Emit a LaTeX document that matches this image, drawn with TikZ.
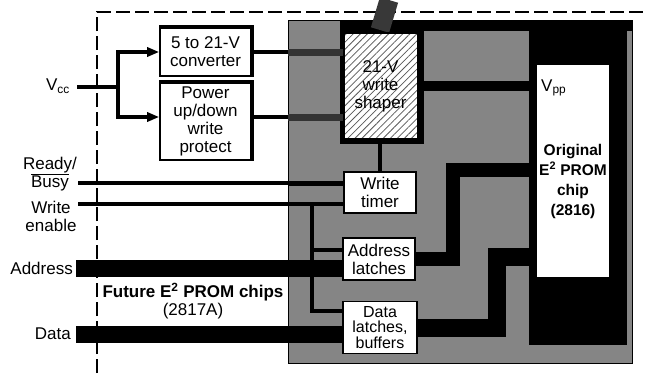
\documentclass[tikz,border=0pt]{standalone}
\usepackage{fontspec}
\setmainfont{Liberation Sans}
\usetikzlibrary{arrows.meta,patterns.meta,calc}
\begin{document}
\begin{tikzpicture}[x=1pt,y=-1pt,
  font=\fontsize{17}{18}\selectfont,
  box/.style={draw, line width=1.6pt, fill=white, align=center, inner sep=0pt},
  wire/.style={line width=3.2pt},
  inwire/.style={line width=7pt, black!80},
  trace/.style={line width=#1, line join=miter},
  bus/.style={line width=17pt},
  lab/.style={align=center, inner sep=0pt},
  arr/.style={-{Triangle[length=12pt,width=9pt]}}]
\useasboundingbox (0,0) rectangle (645,373);

% outer dashed boundary
\draw[line width=1.8pt, dash pattern=on 14pt off 5pt] (97,373) -- (97,12) -- (645,12);

% stippled region
\node[fill=black!48, draw, line width=1pt, minimum width=344pt, minimum height=343pt,
      anchor=north west, inner sep=0pt] (stip) at (288,20) {};

% black areas
\fill (341,20) rectangle (632,31);
\fill (529,20) rectangle (627,345);
\fill (340,20) rectangle (424,144);

% shaper output going up
\coordinate (vout) at (389,0);
\coordinate (vbase) at (380,30);
\draw[line width=19pt, black!78] (vbase) -- (vout);

% boxes
\node[box, minimum width=91pt, minimum height=48pt] (conv) at (205.5,52) {5 to 21-V\\converter};
\node[box, minimum width=91pt, minimum height=77pt] (pwr) at (205.5,121.5) {Power\\up/down\\write\\protect};
\draw[line width=4pt] (conv.north west) -- (conv.north east) -- (conv.south east);
\draw[line width=4pt] (pwr.north west) -- (pwr.north east) -- (pwr.south east);

\node[draw, line width=2pt, align=center, inner sep=0pt, minimum width=74pt, minimum height=106pt,
      preaction={fill=white},
      pattern={Lines[angle=45,distance=5pt,line width=0.8pt]}, pattern color=black!65]
      (shaper) at (380.5,86) {21-V\\write\\shaper};

\node[box, minimum width=72pt, minimum height=41pt] (timer) at (380,192.5) {Write\\timer};
\node[box, minimum width=72pt, minimum height=42pt] (alat) at (379,259) {Address\\latches};
\node[box, minimum width=74pt, minimum height=52pt, font=\fontsize{16}{15.5}\selectfont] (dlat) at (380,327.5) {Data\\latches,\\buffers};

% chip
\node[fill=white, inner sep=0pt, minimum width=72pt, minimum height=212pt] (chip) at (573,171) {};

% traces inside
\coordinate (a1) at (453,259);
\coordinate (a2) at (453,170);
\coordinate (d1) at (497,327.5);
\coordinate (d2) at (497,257);
\draw[trace=14pt] (alat.east) -- (a1) -- (a2) -- (a2 -| chip.west);
\draw[trace=18pt] (dlat.east) -- (d1) -- (d2) -- (d2 -| chip.west);
\draw[line width=10pt] (shaper.east) -- (shaper.east -| chip.west);
\node[anchor=west, inner sep=0pt] (vpp) at (541,88) {V\textsubscript{pp}};
\node[lab, font=\bfseries\fontsize{15.5}{20}\selectfont] (chiptxt) at (573,181) {Original\\E\textsuperscript{2} PROM\\chip\\(2816)};

% timer to shaper
\draw[wire] (timer.north) -- (timer.north |- shaper.south);

% left labels
\node[lab, anchor=east] (vcc) at (70,86) {V\textsubscript{cc}};
\node[lab] (rb) at (50,174) {Ready/\\$\overline{\mbox{Busy}}$};
\node[lab] (we) at (51,216) {Write\\enable};
\node[lab, anchor=east] (addr) at (73,268) {Address};
\node[lab, anchor=east] (data) at (71,334) {Data};
\node[lab] (future) at (193,301) {{\bfseries Future E\textsuperscript{2} PROM chips}\\(2817A)};

% Vcc distribution
\coordinate (vcs) at (77,87);
\coordinate (br) at (118,87);
\draw[wire] (vcs) -- (br);
\draw[wire, arr] (br) |- (conv.west);
\draw[wire, arr] (br) |- ([yshift=4.5pt]pwr.west);
\draw[wire] (conv.east) -- (conv.east -| shaper.west);
\draw[wire] ([yshift=4.5pt]pwr.east) -- ([yshift=4.5pt]pwr.east -| shaper.west);
\draw[inwire] (conv.east -| stip.west) -- (conv.east -| shaper.west);
\draw[inwire] ([yshift=4.5pt]pwr.east -| stip.west) -- ([yshift=4.5pt]pwr.east -| shaper.west);

% control lines
\coordinate (rbs) at (78,183);
\coordinate (wes) at (78,204);
\coordinate (wej) at (312,204);
\draw[wire] (rbs) -- (rbs -| timer.west);
\draw[wire] (wes) -- (wes -| timer.west);
\draw[line width=5pt] (rbs -| stip.west) -- (rbs -| timer.west);
\draw[line width=4.5pt] (wej) |- ([yshift=9pt]alat.west);
\draw[line width=4.5pt] (wej) |- ([yshift=16.5pt]dlat.west);

% buses
\coordinate (abs) at (76,268);
\coordinate (dbs) at (76,334);
\draw[bus] (abs) -- (abs -| alat.west);
\draw[bus] (dbs) -- (dbs -| dlat.west);
\end{tikzpicture}
\end{document}
